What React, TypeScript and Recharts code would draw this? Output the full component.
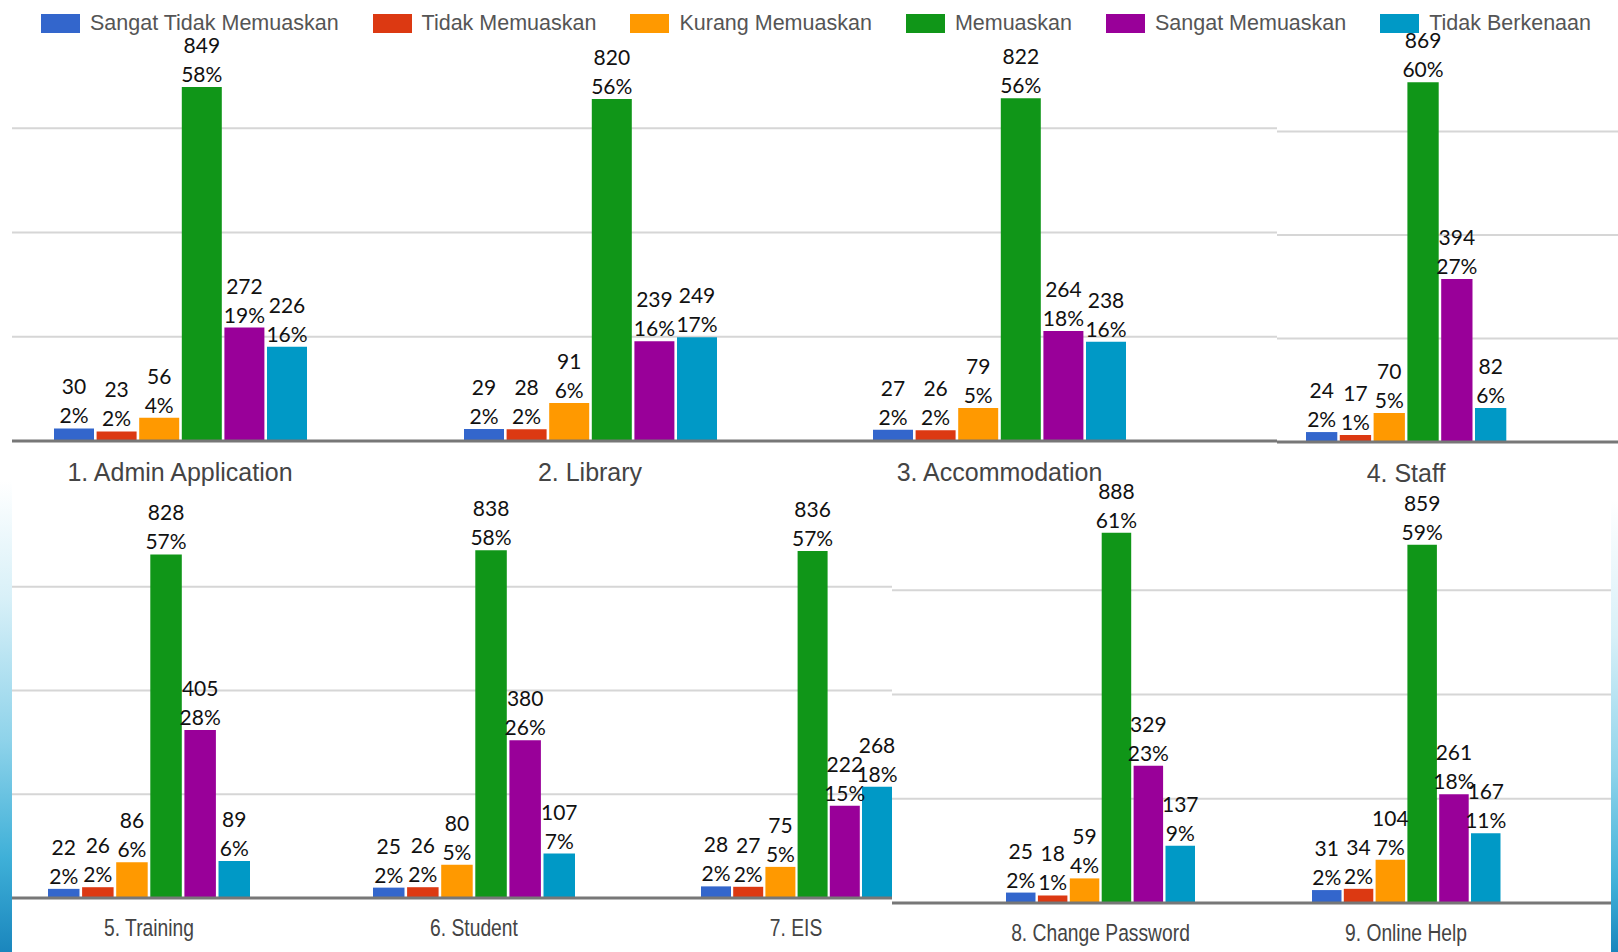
import React from 'react';
import { BarChart, Bar, XAxis, YAxis, CartesianGrid, LabelList } from 'recharts';

const CATEGORIES = [
  '1. Admin Application',
  '2. Library',
  '3. Accommodation',
  '4. Staff',
  '5. Training',
  '6. Student',
  '7. EIS',
  '8. Change Password',
  '9. Online Help',
];

const SERIES_NAMES = [
  'Sangat Tidak Memuaskan',
  'Tidak Memuaskan',
  'Kurang Memuaskan',
  'Memuaskan',
  'Sangat Memuaskan',
  'Tidak Berkenaan',
];

const SANGAT_TIDAK_MEMUASKAN = [30, 29, 27, 24, 22, 25, 28, 25, 31];
const TIDAK_MEMUASKAN = [23, 28, 26, 17, 26, 26, 27, 18, 34];
const KURANG_MEMUASKAN = [56, 91, 79, 70, 86, 80, 75, 59, 104];
const MEMUASKAN = [849, 820, 822, 869, 828, 838, 836, 888, 859];
const SANGAT_MEMUASKAN = [272, 239, 264, 394, 405, 380, 222, 329, 261];
const TIDAK_BERKENAAN = [226, 249, 238, 82, 89, 107, 268, 137, 167];

const PCT_SANGAT_TIDAK_MEMUASKAN = [2, 2, 2, 2, 2, 2, 2, 2, 2];
const PCT_TIDAK_MEMUASKAN = [2, 2, 2, 1, 2, 2, 2, 1, 2];
const PCT_KURANG_MEMUASKAN = [4, 6, 5, 5, 6, 5, 5, 4, 7];
const PCT_MEMUASKAN = [58, 56, 56, 60, 57, 58, 57, 61, 59];
const PCT_SANGAT_MEMUASKAN = [19, 16, 18, 27, 28, 26, 15, 23, 18];
const PCT_TIDAK_BERKENAAN = [16, 17, 16, 6, 6, 7, 18, 9, 11];

const Y_TICKS = [0, 250, 500, 750];
const Y_MAX = 1000;

const VALUES = [
  SANGAT_TIDAK_MEMUASKAN,
  TIDAK_MEMUASKAN,
  KURANG_MEMUASKAN,
  MEMUASKAN,
  SANGAT_MEMUASKAN,
  TIDAK_BERKENAAN,
];
const PCTS = [
  PCT_SANGAT_TIDAK_MEMUASKAN,
  PCT_TIDAK_MEMUASKAN,
  PCT_KURANG_MEMUASKAN,
  PCT_MEMUASKAN,
  PCT_SANGAT_MEMUASKAN,
  PCT_TIDAK_BERKENAAN,
];

const COLORS = ['#3366cc', '#dc3912', '#ff9900', '#109618', '#990099', '#0099c6'];

// Layout of the nine panels (collage of screenshots)
type PanelLayout = {
  x0: number;
  x1: number;
  cx: number;
  base: number;
  k: number;
  barSize: number;
  gap: number;
  narrow: boolean;
};

const LAYOUT: PanelLayout[] = [
  { x0: 12, x1: 385, cx: 180, base: 441, k: 0.417, barSize: 40, gap: 2.6, narrow: false },
  { x0: 385, x1: 795, cx: 590, base: 441, k: 0.417, barSize: 40, gap: 2.6, narrow: false },
  { x0: 795, x1: 1277, cx: 999.5, base: 441, k: 0.417, barSize: 40, gap: 2.6, narrow: false },
  { x0: 1277, x1: 1618, cx: 1406, base: 442, k: 0.414, barSize: 31.3, gap: 2.5, narrow: false },
  { x0: 12, x1: 311, cx: 149, base: 898, k: 0.415, barSize: 31.5, gap: 2.6, narrow: true },
  { x0: 311, x1: 635, cx: 474, base: 898, k: 0.415, barSize: 31.5, gap: 2.6, narrow: true },
  { x0: 635, x1: 892, cx: 796, base: 898, k: 0.415, barSize: 30, gap: 2.2, narrow: true },
  { x0: 892, x1: 1250, cx: 1100.5, base: 903, k: 0.417, barSize: 29.5, gap: 2.4, narrow: true },
  { x0: 1250, x1: 1611, cx: 1406, base: 903, k: 0.417, barSize: 29.5, gap: 2.3, narrow: true },
];

const TOP_MARGIN = 50;
const AXIS_H = 60;

const LABEL_FONT = "Lato, 'Open Sans', sans-serif";
const AXIS_FONT = "'Liberation Sans', Arial, sans-serif";

function makeLabel(pct: number) {
  return (props: any) => {
    const { x, y, width, value } = props;
    const cx = Number(x) + Number(width) / 2;
    const top = Number(y);
    return (
      <g>
        <text x={cx} y={top - 42.5} textAnchor="middle" dominantBaseline="central" fontFamily={LABEL_FONT} fontSize={21} fill="#111">
          {value}
        </text>
        <text x={cx} y={top - 13.5} textAnchor="middle" dominantBaseline="central" fontFamily={LABEL_FONT} fontSize={21} fill="#111">
          {pct}%
        </text>
      </g>
    );
  };
}

function makeTick(narrow: boolean) {
  return (props: any) => {
    const { x, y, payload } = props;
    const ty = Number(y) + 22.5;
    return (
      <text
        x={0}
        y={0}
        transform={`translate(${x}, ${ty}) scale(${narrow ? 0.82 : 1}, 1)`}
        textAnchor="middle"
        dominantBaseline="central"
        fontFamily={AXIS_FONT}
        fontSize={narrow ? 23.5 : 25}
        fill="#444"
      >
        {payload.value}
      </text>
    );
  };
}

function Panel({ p }: { p: number }) {
  const L = LAYOUT[p];
  const width = L.x1 - L.x0;
  const plotH = Y_MAX * L.k;
  const height = TOP_MARGIN + plotH + AXIS_H;
  const left = L.cx - L.x0;
  const right = L.x1 - L.cx;
  const padL = left > right ? left - right : 0;
  const padR = right > left ? right - left : 0;
  const row: any = { name: CATEGORIES[p] };
  VALUES.forEach((arr, j) => {
    row['s' + j] = arr[p];
  });
  const data = [row];
  return (
    <div style={{ position: 'absolute', left: L.x0, top: L.base - plotH - TOP_MARGIN, width, height }}>
      <BarChart
        width={width}
        height={height}
        data={data}
        margin={{ top: TOP_MARGIN, right: 0, bottom: 0, left: 0 }}
        barSize={L.barSize}
        barGap={L.gap}
      >
        <CartesianGrid vertical={false} stroke="#d6d6d6" strokeWidth={2} syncWithTicks />
        <YAxis hide domain={[0, Y_MAX]} ticks={Y_TICKS} type="number" allowDataOverflow />
        <XAxis
          dataKey="name"
          type="category"
          interval={0}
          height={AXIS_H}
          tickLine={false}
          axisLine={{ stroke: '#777', strokeWidth: 3 }}
          padding={{ left: padL, right: padR }}
          tick={makeTick(L.narrow)}
        />
        {VALUES.map((_, j) => (
          <Bar key={j} dataKey={'s' + j} name={SERIES_NAMES[j]} fill={COLORS[j]} isAnimationActive={false}>
            <LabelList dataKey={'s' + j} content={makeLabel(PCTS[j][p])} />
          </Bar>
        ))}
      </BarChart>
    </div>
  );
}

function Legend() {
  return (
    <div
      style={{
        position: 'absolute',
        left: 41,
        top: 9,
        zIndex: 10,
        display: 'flex',
        alignItems: 'center',
        height: 28,
        fontFamily: AXIS_FONT,
        fontSize: 21.5,
        lineHeight: '28px',
        color: '#555',
        whiteSpace: 'nowrap',
      }}
    >
      {SERIES_NAMES.map((n, j) => (
        <div key={n} style={{ display: 'flex', alignItems: 'center', marginRight: 34 }}>
          <div style={{ width: 39, height: 19, flex: '0 0 auto', background: COLORS[j], marginRight: 10 }} />
          <span>{n}</span>
        </div>
      ))}
    </div>
  );
}

export default function App() {
  return (
    <div style={{ position: 'absolute', left: 0, top: 0, width: 1618, height: 952, background: '#fff', overflow: 'hidden' }}>
      <style>{`.recharts-surface { overflow: visible !important; } .recharts-wrapper { overflow: visible !important; }`}</style>
      <div
        style={{
          position: 'absolute',
          left: 0,
          top: 480,
          width: 12,
          height: 472,
          background: 'linear-gradient(to bottom, #ffffff 0%, #d8f0f8 25%, #8fd3ea 55%, #3fb0d8 80%, #1a86bd 100%)',
        }}
      />
      <div
        style={{
          position: 'absolute',
          left: 1611,
          top: 500,
          width: 7,
          height: 452,
          background: 'linear-gradient(to bottom, #ffffff 0%, #d8f0f8 30%, #8fd3ea 60%, #3fb0d8 85%, #1a86bd 100%)',
        }}
      />
      {CATEGORIES.map((_, p) => (
        <Panel key={p} p={p} />
      ))}
      <Legend />
    </div>
  );
}
